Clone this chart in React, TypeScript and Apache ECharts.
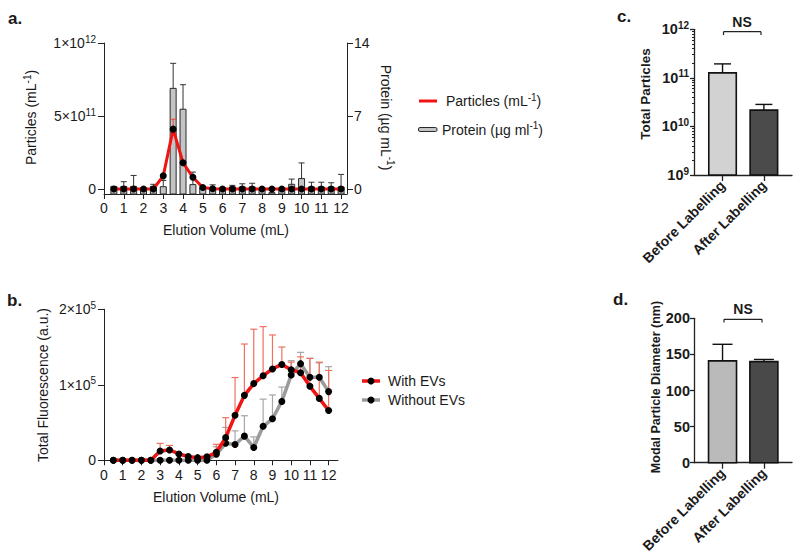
import React, { useEffect, useRef } from 'react';
import * as echarts from 'echarts';

const FONT = "'Liberation Sans', Arial, Helvetica, sans-serif";

// ---------- data ----------
const volumes = [0.5, 1, 1.5, 2, 2.5, 3, 3.5, 4, 4.5, 5, 5.5, 6, 6.5, 7, 7.5, 8, 8.5, 9, 9.5, 10, 10.5, 11, 11.5, 12];
const particles = [0, 0, 0, 0, 0, 0.9e11, 4.1e11, 1.8e11, 0.8e11, 0.1e11, 0.02e11, 0, 0, 0, 0, 0, 0, 0, 0, 0, 0, 0, 0, 0];
const particlesErr = [0, 0, 0, 0, 0, 0, 0.68e11, 0, 0, 0, 0, 0, 0, 0, 0, 0, 0, 0, 0, 0, 0, 0, 0, 0];
const protein = [0.25, 0.25, 0.25, 0.1, 0.25, 0.22, 9.65, 7.65, 0.42, 0.1, 0.1, 0.1, 0.2, 0.2, 0.2, 0.1, -0.35, 0.1, 0.45, 1.0, 0.2, 0.2, 0.2, 0.2];
const proteinErr = [0, 0.45, 1.05, 0, 0.2, 0.6, 2.4, 2.35, 1.2, 0, 0.3, 0, 0.15, 0.3, 0.35, 0, 0, 0, 0.5, 1.5, 0.45, 0.45, 0.4, 1.2];

const withEVs = [0, 0, 0, 0, 0, 12400, 13700, 8400, 5000, 3500, 4500, 10600, 30000, 59600, 86000, 101600, 112000, 121000, 127000, 120000, 116000, 98000, 82000, 66000];
const withEVsErr = [0, 0, 0, 0, 0, 10000, 6000, 0, 0, 0, 0, 10500, 26500, 50000, 68000, 72000, 65000, 45000, 23000, 10000, 21000, 37000, 48000, 53000];
const withoutEVs = [0, 0, 0, 0, 0, 0, 0, 0, 0, 0, 0, 8000, 22500, 21000, 32000, 17000, 45000, 55000, 78000, 113000, 128000, 110000, 110000, 91000];
const withoutEVsErr = [0, 0, 0, 0, 0, 0, 0, 0, 0, 0, 0, 10000, 21000, 18000, 27000, 14000, 36000, 31500, 19000, 19000, 15000, 25000, 19000, 33000];

const volumeTicks = [0, 1, 2, 3, 4, 5, 6, 7, 8, 9, 10, 11, 12];
const particleTicks = [0, 5e11, 1e12];
const proteinTicks = [0, 7, 14];
const fluorTicks = [0, 1e5, 2e5];

const groups = ['Before Labelling', 'After Labelling'];
const groupPos = [1, 2];
const totalParticles = [1.27e11, 2.17e10];
const totalParticlesErr = [0.67e11, 0.67e10];
const modalDiameter = [141, 140];
const modalDiameterErr = [23, 3];
const logTicks = [1e9, 1e10, 1e11, 1e12];
const logMinorTicks = [
  2e9, 3e9, 4e9, 5e9, 6e9, 7e9, 8e9, 9e9,
  2e10, 3e10, 4e10, 5e10, 6e10, 7e10, 8e10, 9e10,
  2e11, 3e11, 4e11, 5e11, 6e11, 7e11, 8e11, 9e11,
];
const diameterTicks = [0, 50, 100, 150, 200];

// ---------- helpers ----------
const sci = (v: number) => {
  if (v === 0) return '0';
  const e = Math.floor(Math.log10(v) + 1e-9);
  const m = Math.round(v / Math.pow(10, e));
  return `{b|${m}×10}{s|${e}}`;
};
const pow10 = (v: number) => `{b|10}{s|${Math.round(Math.log10(v))}}`;

const richReg = {
  b: { fontSize: 14, fontFamily: FONT, color: '#1a1a1a', lineHeight: 18 },
  s: { fontSize: 10, fontFamily: FONT, color: '#1a1a1a', verticalAlign: 'top', lineHeight: 10 },
};
const richBold = {
  b: { fontSize: 14.5, fontFamily: FONT, fontWeight: 'bold', color: '#1a1a1a', lineHeight: 18 },
  s: { fontSize: 10, fontFamily: FONT, fontWeight: 'bold', color: '#1a1a1a', verticalAlign: 'top', lineHeight: 10 },
};

const AX = '#222';

const errRender = (color: string, lw: number, cap: number) => (params: any, api: any) => {
  const x = api.value(0), v = api.value(1), e = api.value(2);
  if (!e) return { type: 'group', children: [] };
  const p0 = api.coord([x, v]);
  const p1 = api.coord([x, v + e]);
  return {
    type: 'group',
    children: [
      { type: 'line', shape: { x1: p0[0], y1: p0[1], x2: p1[0], y2: p1[1] }, style: { stroke: color, lineWidth: lw } },
      { type: 'line', shape: { x1: p1[0] - cap / 2, y1: p1[1], x2: p1[0] + cap / 2, y2: p1[1] }, style: { stroke: color, lineWidth: lw } },
    ],
  };
};

const barRender = (base: number, width: number, fills: string[], stroke: string, lw: number, cap: number, errColor: string, errLw: number) =>
  (params: any, api: any) => {
    const x = api.value(0), v = api.value(1), e = api.value(2);
    const top = api.coord([x, v]);
    const bot = api.coord([x, base]);
    const fill = fills[params.dataIndex % fills.length];
    const children: any[] = [
      {
        type: 'rect',
        shape: { x: top[0] - width / 2, y: Math.min(top[1], bot[1]), width, height: Math.abs(bot[1] - top[1]) },
        style: { fill, stroke, lineWidth: lw },
      },
    ];
    if (e) {
      const p1 = api.coord([x, v + e]);
      children.push({ type: 'line', shape: { x1: top[0], y1: top[1], x2: p1[0], y2: p1[1] }, style: { stroke: errColor, lineWidth: errLw } });
      children.push({ type: 'line', shape: { x1: p1[0] - cap / 2, y1: p1[1], x2: p1[0] + cap / 2, y2: p1[1] }, style: { stroke: errColor, lineWidth: errLw } });
    }
    return { type: 'group', children };
  };

const axisLineStyle = { show: true, onZero: false, lineStyle: { color: AX, width: 1 } };

const txt = (text: string, x: number, y: number, opts: any = {}) => ({
  type: 'text',
  x,
  y,
  rotation: opts.rotation || 0,
  style: {
    text,
    fontSize: opts.fontSize || 14,
    fontFamily: FONT,
    fontWeight: opts.fontWeight || 'normal',
    fill: opts.fill || '#1a1a1a',
    align: opts.align || 'center',
    verticalAlign: 'middle',
    rich: opts.rich,
  },
});

const ln = (x1: number, y1: number, x2: number, y2: number, stroke: string, lineWidth: number) => ({
  type: 'line',
  shape: { x1, y1, x2, y2 },
  style: { stroke, lineWidth },
});

const supRich = (size: number, weight = 'normal') => ({
  a: { fontSize: size, fontFamily: FONT, fontWeight: weight, color: '#1a1a1a', lineHeight: size + 4 },
  s: { fontSize: size - 4, fontFamily: FONT, fontWeight: weight, color: '#1a1a1a', verticalAlign: 'top', lineHeight: size - 4 },
});

export default function App() {
  const ref = useRef<HTMLDivElement>(null);

  useEffect(() => {
    if (!ref.current) return;
    const chart = echarts.init(ref.current, null, { renderer: 'svg' });

    const option: any = {
      animation: false,
      backgroundColor: '#ffffff',
      grid: [
        { left: 104, top: 43, width: 243, height: 151 },
        { left: 104, top: 309.3, width: 234, height: 151 },
        { left: 694, top: 29.3, width: 98, height: 145.7 },
        { left: 694, top: 318.3, width: 98, height: 144.4 },
      ],
      xAxis: [
        {
          type: 'value', gridIndex: 0, min: 0, max: 12.3,
          axisLine: axisLineStyle,
          axisTick: { show: true, length: 5, customValues: volumeTicks, lineStyle: { color: AX } },
          axisLabel: { customValues: volumeTicks, fontSize: 14, fontFamily: FONT, color: '#1a1a1a', margin: 7 },
          splitLine: { show: false },
        },
        {
          type: 'value', gridIndex: 1, min: 0, max: 12.5,
          axisLine: axisLineStyle,
          axisTick: { show: true, length: 5, customValues: volumeTicks, lineStyle: { color: AX } },
          axisLabel: { customValues: volumeTicks, fontSize: 14, fontFamily: FONT, color: '#1a1a1a', margin: 8 },
          splitLine: { show: false },
        },
        {
          type: 'value', gridIndex: 2, min: 0.31, max: 2.68,
          axisLine: { ...axisLineStyle, lineStyle: { color: AX, width: 1.3 } },
          axisTick: { show: true, length: 6, customValues: groupPos, lineStyle: { color: AX, width: 1.3 } },
          axisLabel: {
            customValues: groupPos, rotate: 45, margin: 8,
            fontSize: 14, fontWeight: 'bold', fontFamily: FONT, color: '#1a1a1a',
            formatter: (v: number) => groups[Math.round(v) - 1] || '',
          },
          splitLine: { show: false },
        },
        {
          type: 'value', gridIndex: 3, min: 0.31, max: 2.68,
          axisLine: { ...axisLineStyle, lineStyle: { color: AX, width: 1.3 } },
          axisTick: { show: true, length: 6, customValues: groupPos, lineStyle: { color: AX, width: 1.3 } },
          axisLabel: {
            customValues: groupPos, rotate: 45, margin: 8,
            fontSize: 14, fontWeight: 'bold', fontFamily: FONT, color: '#1a1a1a',
            formatter: (v: number) => groups[Math.round(v) - 1] || '',
          },
          splitLine: { show: false },
        },
      ],
      yAxis: [
        {
          type: 'value', gridIndex: 0, position: 'left', min: -1e12 * 5 / 146, max: 1e12,
          axisLine: axisLineStyle,
          axisTick: { show: true, length: 6, customValues: particleTicks, lineStyle: { color: AX } },
          axisLabel: { customValues: particleTicks, formatter: sci, rich: richReg, fontSize: 14, fontFamily: FONT, color: '#1a1a1a', margin: 8 },
          splitLine: { show: false },
        },
        {
          type: 'value', gridIndex: 0, position: 'right', min: -14 * 5 / 146, max: 14,
          axisLine: axisLineStyle,
          axisTick: { show: true, length: 6, customValues: proteinTicks, lineStyle: { color: AX } },
          axisLabel: { customValues: proteinTicks, fontSize: 14, fontFamily: FONT, color: '#1a1a1a', margin: 7 },
          splitLine: { show: false },
        },
        {
          type: 'value', gridIndex: 1, min: 0, max: 2e5,
          axisLine: axisLineStyle,
          axisTick: { show: true, length: 6, customValues: fluorTicks, lineStyle: { color: AX } },
          axisLabel: { customValues: fluorTicks, formatter: sci, rich: richReg, fontSize: 14, fontFamily: FONT, color: '#1a1a1a', margin: 8 },
          splitLine: { show: false },
        },
        {
          type: 'log', logBase: 10, gridIndex: 2, position: 'left', min: 1e9, max: 1e12,
          axisLine: { ...axisLineStyle, lineStyle: { color: AX, width: 1.3 } },
          axisTick: { show: true, length: 4, customValues: logTicks, lineStyle: { color: AX, width: 1.3 } },
          axisLabel: { customValues: logTicks, formatter: pow10, rich: richBold, fontSize: 14.5, fontFamily: FONT, color: '#1a1a1a', margin: 5 },
          splitLine: { show: false },
        },
        {
          type: 'log', logBase: 10, gridIndex: 2, position: 'left', offset: 0, min: 1e9, max: 1e12,
          axisLine: { show: false, onZero: false },
          axisTick: { show: true, length: 2, customValues: logMinorTicks, lineStyle: { color: AX, width: 1 } },
          axisLabel: { show: false },
          splitLine: { show: false },
        },
        {
          type: 'value', gridIndex: 3, min: 0, max: 200,
          axisLine: { ...axisLineStyle, lineStyle: { color: AX, width: 1.3 } },
          axisTick: { show: true, length: 4, customValues: diameterTicks, lineStyle: { color: AX, width: 1.3 } },
          axisLabel: { customValues: diameterTicks, fontSize: 14.5, fontWeight: 'bold', fontFamily: FONT, color: '#1a1a1a', margin: 4 },
          splitLine: { show: false },
        },
      ],
      series: [
        {
          type: 'custom', xAxisIndex: 0, yAxisIndex: 1, z: 1,
          renderItem: barRender(-14 * 5 / 146, 6, ['#c4c4c4'], '#2a2a2a', 1, 6, '#333', 1),
          data: volumes.map((x, i) => [x, protein[i], proteinErr[i]]),
          encode: { x: 0, y: 1 },
        },
        {
          type: 'custom', xAxisIndex: 0, yAxisIndex: 0, z: 2,
          renderItem: errRender('#e8433a', 1, 6),
          data: volumes.map((x, i) => [x, particles[i], particlesErr[i]]),
          encode: { x: 0, y: 1 },
        },
        {
          type: 'line', xAxisIndex: 0, yAxisIndex: 0, z: 3,
          data: volumes.map((x, i) => [x, particles[i]]),
          symbol: 'circle', symbolSize: 7,
          itemStyle: { color: '#000' },
          lineStyle: { color: '#f01414', width: 3 },
        },
        {
          type: 'custom', xAxisIndex: 1, yAxisIndex: 2, z: 1,
          renderItem: errRender('#a6a6a6', 1.2, 7),
          data: volumes.map((x, i) => [x, withoutEVs[i], withoutEVsErr[i]]),
          encode: { x: 0, y: 1 },
        },
        {
          type: 'custom', xAxisIndex: 1, yAxisIndex: 2, z: 1,
          renderItem: errRender('#f0705f', 1.2, 7),
          data: volumes.map((x, i) => [x, withEVs[i], withEVsErr[i]]),
          encode: { x: 0, y: 1 },
        },
        {
          type: 'line', xAxisIndex: 1, yAxisIndex: 2, z: 3,
          data: volumes.map((x, i) => [x, withoutEVs[i]]),
          symbol: 'circle', symbolSize: 7,
          itemStyle: { color: '#000' },
          lineStyle: { color: '#9a9a9a', width: 3.5 },
        },
        {
          type: 'line', xAxisIndex: 1, yAxisIndex: 2, z: 4,
          data: volumes.map((x, i) => [x, withEVs[i]]),
          symbol: 'circle', symbolSize: 7,
          itemStyle: { color: '#000' },
          lineStyle: { color: '#f01414', width: 3.5 },
        },
        {
          type: 'custom', xAxisIndex: 2, yAxisIndex: 3, z: 2,
          renderItem: barRender(1e9, 27.5, ['#d2d2d2', '#4b4b4b'], '#111', 1.6, 17, '#111', 1.4),
          data: groupPos.map((x, i) => [x, totalParticles[i], totalParticlesErr[i]]),
          encode: { x: 0, y: 1 },
        },
        {
          type: 'custom', xAxisIndex: 3, yAxisIndex: 5, z: 2,
          renderItem: barRender(0, 28, ['#bababa', '#494949'], '#111', 1.6, 20, '#111', 1.4),
          data: groupPos.map((x, i) => [x, modalDiameter[i], modalDiameterErr[i]]),
          encode: { x: 0, y: 1 },
        },
      ],
      graphic: [
        // panel letters
        txt('a.', 8, 18, { fontSize: 17, fontWeight: 'bold', align: 'left' }),
        txt('b.', 7, 300, { fontSize: 17, fontWeight: 'bold', align: 'left' }),
        txt('c.', 617, 16, { fontSize: 17, fontWeight: 'bold', align: 'left' }),
        txt('d.', 613, 299, { fontSize: 17, fontWeight: 'bold', align: 'left' }),
        // panel a titles
        txt('{a|Particles (mL}{s|-1}{a|)}', 31, 117.5, { rotation: Math.PI / 2, rich: supRich(14) }),
        txt('{a|Protein (µg mL}{s|-1}{a|)}', 386, 117.5, { rotation: -Math.PI / 2, rich: supRich(14) }),
        txt('Elution Volume (mL)', 226, 230),
        // panel a legend
        ln(419, 101, 437, 101, '#f01414', 3),
        txt('{a|Particles (mL}{s|-1}{a|)}', 446, 101, { align: 'left', rich: supRich(14) }),
        { type: 'rect', shape: { x: 418.5, y: 127.5, width: 18.5, height: 4, r: 1.5 }, style: { fill: '#c4c4c4', stroke: '#2a2a2a', lineWidth: 1 } },
        txt('{a|Protein (µg ml}{s|-1}{a|)}', 442, 129.5, { align: 'left', rich: supRich(14) }),
        // panel b titles
        txt('Total Fluorescence (a.u.)', 43, 385, { rotation: Math.PI / 2 }),
        txt('Elution Volume (mL)', 216, 497),
        // panel b legend
        ln(362, 381, 380, 381, '#f01414', 3.5),
        { type: 'circle', shape: { cx: 371, cy: 381, r: 3.5 }, style: { fill: '#000' } },
        txt('With EVs', 388, 381, { align: 'left' }),
        ln(362, 400, 380, 400, '#9a9a9a', 3.5),
        { type: 'circle', shape: { cx: 371, cy: 400, r: 3.5 }, style: { fill: '#000' } },
        txt('Without EVs', 388, 400, { align: 'left' }),
        // panel c
        txt('Total Particles', 645, 94, { rotation: Math.PI / 2, fontSize: 13.5, fontWeight: 'bold' }),
        ln(723.5, 31.7, 761, 31.7, '#222', 1.2),
        ln(723.5, 31.7, 723.5, 35, '#222', 1.2),
        ln(761, 31.7, 761, 35, '#222', 1.2),
        txt('NS', 742, 21.5, { fontSize: 14, fontWeight: 'bold' }),
        // panel d
        txt('Modal Particle Diameter (nm)', 656, 387, { rotation: Math.PI / 2, fontSize: 12.5, fontWeight: 'bold' }),
        ln(724, 319.3, 762, 319.3, '#222', 1.2),
        ln(724, 319.3, 724, 322.5, '#222', 1.2),
        ln(762, 319.3, 762, 322.5, '#222', 1.2),
        txt('NS', 743, 309, { fontSize: 14, fontWeight: 'bold' }),
      ],
    };

    chart.setOption(option);
    return () => chart.dispose();
  }, []);

  return <div ref={ref} style={{ position: 'fixed', left: 0, top: 0, width: 800, height: 559, background: '#fff' }} />;
}
